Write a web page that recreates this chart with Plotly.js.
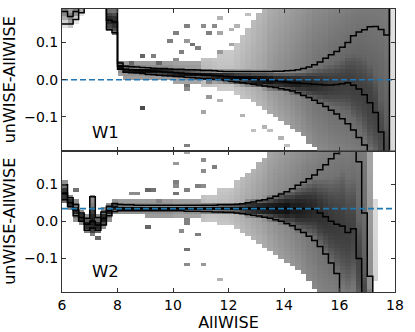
<!DOCTYPE html>
<html>
<head>
<meta charset="utf-8">
<script src="https://cdn.plot.ly/plotly-3.0.1.min.js"></script>
<style>html,body{margin:0;padding:0;background:#fff;}#plot{width:415px;height:332px;}</style>
</head>
<body>
<div id="plot"></div>
<script>
// ---- x bins (AllWISE mag), 0.2 mag wide, 60 bins from 6 to 18 ----
const binLo = 6.0, binW = 0.2, nBins = 60;
const xTicks = [6, 8, 10, 12, 14, 16, 18];
const yTicks = [-0.1, 0.0, 0.1];
const panelLabels = ["W1", "W2"];
const medianOffset = [0.0, 0.034];   // blue dashed lines (W1, W2)

// ---- W1 percentile step lines (upper / median / lower); |v|=0.3 means off the panel ----
const w1Upper = [
 0.30,0.30,0.30,0.30,0.30, 0.30,0.30,0.30,0.30,0.30,
 0.045,0.036,0.035,0.034,0.033, 0.032,0.031,0.030,0.030,0.029,
 0.028,0.028,0.027,0.027,0.026, 0.025,0.025,0.024,0.023,0.022,
 0.022,0.022,0.022,0.022,0.022, 0.022,0.022,0.022,0.023,0.023,
 0.024,0.025,0.027,0.030,0.034, 0.040,0.048,0.058,0.067,0.076,
 0.087,0.100,0.118,0.128,0.134, 0.142,0.143,0.135,0.120,0.30];
const w1Median = [
 0.183,0.170,0.183,0.30,0.30, 0.30,0.30,0.30,0.160,0.155,
 0.036,0.028,0.027,0.026,0.025, 0.024,0.023,0.022,0.021,0.020,
 0.019,0.018,0.017,0.016,0.015, 0.013,0.012,0.011,0.010,0.009,
 0.008,0.006,0.005,0.004,0.002, 0.001,0.000,-0.002,-0.003,-0.004,
 -0.006,-0.008,-0.009,-0.010,-0.011, -0.012,-0.013,-0.014,-0.014,-0.013,
 -0.011,-0.008,-0.015,-0.025,-0.040, -0.062,-0.088,-0.140,-0.30,-0.30];
const w1Lower = [
 0.150,0.150,0.162,0.180,0.30, 0.30,0.30,0.30,0.135,0.126,
 0.028,0.020,0.019,0.018,0.017, 0.015,0.014,0.012,0.011,0.010,
 0.009,0.008,0.007,0.006,0.005, 0.003,0.002,0.001,0.000,-0.002,
 -0.004,-0.006,-0.008,-0.010,-0.012, -0.014,-0.017,-0.019,-0.021,-0.024,
 -0.027,-0.030,-0.035,-0.042,-0.048, -0.055,-0.063,-0.072,-0.082,-0.092,
 -0.105,-0.118,-0.135,-0.155,-0.175, -0.30,-0.30,-0.30,-0.30,0.30];

// ---- W2 percentile step lines ----
const w2Upper = [
 0.098,0.063,0.045,0.022,0.008, 0.066,0.010,0.025,0.040,0.048,
 0.045,0.044,0.044,0.043,0.043, 0.043,0.043,0.043,0.043,0.043,
 0.043,0.043,0.043,0.043,0.043, 0.043,0.043,0.043,0.044,0.044,
 0.044,0.045,0.047,0.050,0.052, 0.055,0.058,0.062,0.067,0.073,
 0.079,0.087,0.097,0.105,0.114, 0.124,0.138,0.152,0.168,0.182,
 0.30,0.30,0.30,0.160,0.022, -0.148,-0.30,-0.30,-0.30,-0.30];
const w2Median = [
 0.075,0.050,0.030,0.010,-0.008, 0.000,-0.010,0.008,0.028,0.038,
 0.036,0.036,0.036,0.036,0.036, 0.035,0.035,0.035,0.035,0.035,
 0.035,0.035,0.035,0.035,0.035, 0.035,0.035,0.035,0.035,0.035,
 0.035,0.035,0.035,0.035,0.035, 0.035,0.035,0.035,0.035,0.035,
 0.035,0.035,0.034,0.034,0.034, 0.033,0.022,0.012,0.000,-0.008,
 -0.013,-0.030,-0.020,-0.100,-0.30, -0.30,-0.30,-0.30,-0.30,-0.30];
const w2Lower = [
 0.058,0.039,0.015,0.000,-0.024, -0.018,-0.024,-0.010,0.015,0.026,
 0.028,0.028,0.028,0.028,0.028, 0.028,0.028,0.028,0.028,0.028,
 0.028,0.028,0.027,0.027,0.027, 0.026,0.026,0.025,0.025,0.024,
 0.024,0.022,0.020,0.018,0.016, 0.014,0.011,0.008,0.004,0.000,
 -0.006,-0.012,-0.022,-0.030,-0.040, -0.052,-0.068,-0.088,-0.112,-0.140,
 -0.30,-0.30,-0.30,-0.30,-0.30, -0.30,-0.30,-0.30,-0.30,-0.30];

// ---- 2D histogram appearance per x bin: top / bottom of the grey region, wing grey level, core grey level ----
const w1Top = [
 0.19,0.19,0.19,0.19,null, null,null,null,0.19,0.19,
 0.050,0.045,0.045,0.045,0.045, 0.045,0.045,0.045,0.045,0.045,
 0.050,0.050,0.050,0.050,0.050, 0.060,0.060,0.060,0.080,0.080,
 0.080,0.100,0.120,0.140,0.160, 0.180,0.19,0.19,0.19,0.19,
 0.19,0.19,0.19,0.19,0.19, 0.19,0.19,0.19,0.19,0.19,
 0.19,0.19,0.19,0.19,0.19, 0.19,0.19,0.19,0.19,0.19];
const w1Bottom = [
 0.145,0.145,0.158,0.175,null, null,null,null,0.130,0.120,
 0.015,0.008,0.008,0.008,0.008, 0.004,0.004,0.004,0.004,0.004,
 -0.004,-0.004,-0.004,-0.004,-0.004, -0.012,-0.012,-0.012,-0.025,-0.025,
 -0.025,-0.035,-0.042,-0.050,-0.058, -0.066,-0.075,-0.085,-0.095,-0.105,
 -0.115,-0.125,-0.135,-0.150,-0.165, -0.180,-0.19,-0.19,-0.19,-0.19,
 -0.19,-0.19,-0.19,-0.19,-0.19, -0.19,-0.19,-0.19,-0.19,-0.19];
const w1Wing = [
 0.15,0.15,0.15,0.15,0, 0,0,0,0.50,0.50,
 0.50,0.50,0.50,0.50,0.50, 0.50,0.50,0.50,0.50,0.50,
 0.45,0.45,0.45,0.45,0.45, 0.30,0.30,0.28,0.26,0.26,
 0.26,0.28,0.30,0.32,0.34, 0.36,0.38,0.42,0.44,0.46,
 0.48,0.50,0.52,0.54,0.56, 0.58,0.59,0.60,0.62,0.63,
 0.64,0.65,0.66,0.67,0.67, 0.67,0.67,0.67,0.66,0.15];
const w1Core = [
 0.50,0.50,0.50,0.50,0, 0,0,0,0.85,0.85,
 0.95,0.95,0.95,0.95,0.95, 0.95,0.95,0.95,0.95,0.95,
 0.95,0.95,0.95,0.95,0.95, 0.95,0.95,0.95,0.95,0.95,
 0.95,0.95,0.95,0.95,0.95, 0.95,0.95,0.95,0.90,0.90,
 0.90,0.90,0.90,0.86,0.86, 0.84,0.82,0.80,0.78,0.77,
 0.76,0.76,0.76,0.75,0.75, 0.75,0.74,0.72,0.70,0.20];

const w2Top = [
 0.105,0.070,0.055,0.030,0.015, 0.070,0.018,0.032,0.047,0.055,
 0.055,0.055,0.055,0.055,0.055, 0.056,0.056,0.056,0.056,0.056,
 0.060,0.060,0.060,0.060,0.060, 0.070,0.070,0.070,0.090,0.090,
 0.090,0.105,0.115,0.130,0.140, 0.155,0.170,0.185,0.19,0.19,
 0.19,0.19,0.19,0.19,0.19, 0.19,0.19,0.19,0.19,0.19,
 0.19,0.19,0.19,0.19,0.19, 0.19,0.060,null,null,null];
const w2Bottom = [
 0.050,0.032,0.008,-0.007,-0.030, -0.025,-0.030,-0.017,0.008,0.020,
 0.020,0.020,0.020,0.020,0.020, 0.018,0.018,0.018,0.018,0.018,
 0.014,0.014,0.014,0.014,0.014, 0.006,0.006,0.006,-0.008,-0.008,
 -0.008,-0.020,-0.030,-0.040,-0.048, -0.056,-0.064,-0.074,-0.085,-0.095,
 -0.105,-0.115,-0.125,-0.138,-0.160, -0.175,-0.19,-0.19,-0.19,-0.19,
 -0.19,-0.19,-0.19,-0.19,-0.19, -0.19,-0.160,null,null,null];
const w2Wing = [
 0.55,0.55,0.55,0.55,0.55, 0.55,0.55,0.55,0.55,0.55,
 0.50,0.50,0.50,0.50,0.50, 0.50,0.50,0.50,0.50,0.50,
 0.45,0.45,0.45,0.45,0.45, 0.30,0.28,0.28,0.28,0.28,
 0.30,0.32,0.34,0.36,0.38, 0.40,0.42,0.45,0.47,0.49,
 0.51,0.53,0.55,0.57,0.59, 0.60,0.62,0.63,0.64,0.65,
 0.66,0.66,0.67,0.67,0.66, 0.45,0.18,0,0,0];
const w2Core = [
 0.90,0.90,0.90,0.90,0.90, 0.90,0.90,0.90,0.90,0.90,
 0.95,0.95,0.95,0.95,0.95, 0.95,0.95,0.95,0.95,0.95,
 0.95,0.95,0.95,0.95,0.95, 0.95,0.95,0.95,0.95,0.95,
 0.95,0.95,0.95,0.95,0.95, 0.95,0.95,0.95,0.95,0.95,
 0.95,0.90,0.90,0.88,0.86, 0.84,0.82,0.80,0.78,0.77,
 0.76,0.75,0.74,0.73,0.72, 0.52,0.22,0,0,0];

// ---- isolated outlier cells (x, y, grey level) ----
const w1OutX = [8.4,8.92,8.92,9.24,9.6,9.9,10.0,10.2,10.25,10.55,10.6,10.7,10.9,11.0,11.3,11.4,10.4,10.6,10.6,11.3,11.7,11.7,12.05,11.7,11.33,11.15,11.7,13.25,12.95,12.5,13.6,13.85,14.1,12.3,12.7,12.1];
const w1OutY = [0.047,0.066,-0.075,0.060,0.044,0.100,0.053,0.120,0.075,0.100,0.142,0.094,0.080,0.142,0.126,0.142,-0.170,-0.016,-0.030,-0.010,0.160,0.126,0.098,0.071,-0.048,-0.083,-0.056,-0.125,-0.138,-0.100,-0.138,-0.160,-0.180,0.150,0.170,0.130];
const w1OutD = [0.6,0.6,0.7,0.5,0.6,0.5,0.45,0.5,0.5,0.4,0.5,0.55,0.5,0.45,0.5,0.45,0.5,0.55,0.45,0.5,0.3,0.35,0.35,0.4,0.4,0.35,0.3,0.3,0.25,0.3,0.25,0.3,0.25,0.3,0.25,0.3];
const w2OutX = [10.2,11.05,10.5,11.4,11.0,10.2,9.0,9.35,10.2,10.4,10.85,11.2,10.0,9.0,10.5,10.5,10.35,10.85,10.5,10.5,11.05,11.7,9.5,8.4,8.75,7.3,6.5,7.1];
const w2OutY = [0.152,0.166,0.180,0.144,0.130,0.109,0.085,0.085,0.090,0.081,0.095,0.090,0.071,-0.018,0.009,-0.010,-0.024,-0.037,-0.072,-0.113,-0.118,-0.154,0.057,0.079,0.079,-0.050,0.080,-0.035];
const w2OutD = [0.4,0.45,0.35,0.5,0.45,0.5,0.6,0.55,0.45,0.5,0.5,0.45,0.55,0.6,0.5,0.5,0.45,0.5,0.55,0.45,0.4,0.3,0.5,0.45,0.45,0.6,0.55,0.5];

// ---------------------------------------------------------------
const yRowW = 0.01, yLo = -0.19, nRows = 38;
const xCenters = [], xEdges = [];
for (let k = 0; k < nBins; k++) { xCenters.push(binLo + binW * (k + 0.5)); xEdges.push(binLo + binW * k); }
xEdges.push(binLo + binW * nBins);
const yCenters = [];
for (let r = 0; r < nRows; r++) yCenters.push(yLo + yRowW * (r + 0.5));

function clip(v, a, b) { return Math.max(a, Math.min(b, v)); }

function buildZ(up, med, lo, top, bot, wing, core, ox, oy, od) {
  const z = [];
  for (let r = 0; r < nRows; r++) z.push(new Array(nBins).fill(null));
  for (let k = 0; k < nBins; k++) {
    if (top[k] === null || bot[k] === null) continue;
    const c = clip(med[k], -0.19, 0.19);
    const s = Math.max((clip(up[k], -0.19, 0.19) - clip(lo[k], -0.19, 0.19)) / 2, 0.006);
    for (let r = 0; r < nRows; r++) {
      const y = yCenters[r];
      if (y > top[k] + 0.004 || y < bot[k] - 0.004) continue;
      const dc = core[k] * Math.exp(-0.5 * Math.pow((y - c) / s, 2));
      const span = y >= c ? Math.max(top[k] - c, 0.01) : Math.max(c - bot[k], 0.01);
      const frac = Math.min(Math.abs(y - c) / span, 1);
      const dw = wing[k] * (1 - 0.22 * frac);
      const d = Math.max(dc, dw);
      if (d > 0.02) z[r][k] = d;
    }
  }
  for (let i = 0; i < ox.length; i++) {
    const k = Math.floor((ox[i] - binLo) / binW);
    const r = Math.floor((oy[i] - yLo) / yRowW);
    if (k >= 0 && k < nBins && r >= 0 && r < nRows) z[r][k] = Math.max(z[r][k] || 0, od[i]);
  }
  return z;
}

const z1 = buildZ(w1Upper, w1Median, w1Lower, w1Top, w1Bottom, w1Wing, w1Core, w1OutX, w1OutY, w1OutD);
const z2 = buildZ(w2Upper, w2Median, w2Lower, w2Top, w2Bottom, w2Wing, w2Core, w2OutX, w2OutY, w2OutD);

const grey = [[0, '#ffffff'], [1, '#000000']];
function heat(z, xa, ya) {
  return {type: 'heatmap', x: xCenters, y: yCenters, z: z, xaxis: xa, yaxis: ya,
    colorscale: grey, zmin: 0, zmax: 1, showscale: false, hoverinfo: 'skip'};
}
function step(vals, xa, ya) {
  return {type: 'scatter', mode: 'lines', x: xEdges, y: vals.concat([vals[vals.length - 1]]),
    xaxis: xa, yaxis: ya, line: {shape: 'hv', color: '#000000', width: 1.5}, hoverinfo: 'skip'};
}
function dashed(v, xa, ya) {
  return {type: 'scatter', mode: 'lines', x: [binLo, binLo + binW * nBins], y: [v, v],
    xaxis: xa, yaxis: ya, line: {color: '#1f77b4', width: 1.7, dash: '6px,3px'}, hoverinfo: 'skip'};
}

const data = [
  heat(z1, 'x2', 'y2'),
  step(w1Upper, 'x2', 'y2'), step(w1Median, 'x2', 'y2'), step(w1Lower, 'x2', 'y2'),
  dashed(medianOffset[0], 'x2', 'y2'),
  heat(z2, 'x', 'y'),
  step(w2Upper, 'x', 'y'), step(w2Median, 'x', 'y'), step(w2Lower, 'x', 'y'),
  dashed(medianOffset[1], 'x', 'y')
];

const font = {family: 'DejaVu Sans', size: 14, color: '#000'};
const axCommon = {showline: true, linecolor: '#333', linewidth: 1, mirror: 'ticks', ticks: 'inside',
  ticklen: 4, tickwidth: 1, tickcolor: '#333', showgrid: false, zeroline: false};
const yTitle = {text: 'unWISE-AllWISE', font: {family: 'DejaVu Sans', size: 16}, standoff: 6};

const layout = {
  width: 415, height: 332, margin: {l: 62, r: 20, t: 9, b: 40},
  paper_bgcolor: '#fff', plot_bgcolor: '#fff', showlegend: false, font: font,
  xaxis: Object.assign({}, axCommon, {domain: [0, 1], range: [6, 18], anchor: 'y', tickvals: xTicks,
    title: {text: 'AllWISE', font: {family: 'DejaVu Sans', size: 16}, standoff: 1}}),
  yaxis: Object.assign({}, axCommon, {domain: [0, 0.5], range: [-0.19, 0.19], anchor: 'x',
    tickvals: yTicks, tickformat: '.1f', title: yTitle}),
  xaxis2: Object.assign({}, axCommon, {domain: [0, 1], range: [6, 18], anchor: 'y2', matches: 'x',
    tickvals: xTicks, showticklabels: false}),
  yaxis2: Object.assign({}, axCommon, {domain: [0.5, 1], range: [-0.19, 0.19], anchor: 'x2',
    tickvals: yTicks, tickformat: '.1f', title: yTitle}),
  annotations: [
    {text: panelLabels[0], xref: 'x2', yref: 'y2', x: 7.0, y: -0.141, xanchor: 'left', yanchor: 'middle',
     showarrow: false, font: {family: 'DejaVu Sans', size: 16.5, color: '#000'}},
    {text: panelLabels[1], xref: 'x', yref: 'y', x: 7.0, y: -0.136, xanchor: 'left', yanchor: 'middle',
     showarrow: false, font: {family: 'DejaVu Sans', size: 16.5, color: '#000'}}
  ]
};

Plotly.newPlot('plot', data, layout, {staticPlot: true, displayModeBar: false});
</script>
</body>
</html>
